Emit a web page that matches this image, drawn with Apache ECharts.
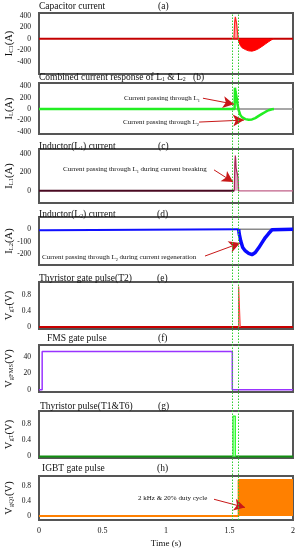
<!DOCTYPE html>
<html><head><meta charset="utf-8">
<script src="https://cdn.jsdelivr.net/npm/echarts@6/dist/echarts.min.js"></script>
<style>html,body{margin:0;padding:0;background:#fff}#c{width:301px;height:550px}</style>
</head><body><div id="c"></div>
<script>
// ---------- data ----------
const timeTicks = [0, 0.5, 1, 1.5, 2];
const markerTimes = [1.525, 1.572];

const capBase = [[0,0],[2,0]];
const capSpike = [[1.535,0],[1.541,300],[1.546,385],[1.551,380],[1.556,270],[1.561,160],[1.566,60],[1.568,0]];
const capNeg = [[1.568,0],[1.572,-40],[1.577,-70],[1.585,-115],[1.598,-154],[1.625,-188],[1.651,-210],[1.677,-215],[1.703,-200],[1.73,-171],[1.756,-132],[1.782,-92],[1.808,-51],[1.835,-12],[1.845,0]];

const combGrey = [[1.54,0],[2,0]];
const combinedL = [[0,0],[1.54,0],[1.543,374],[1.548,298],[1.557,184],[1.564,69],[1.572,-17],[1.585,-103],[1.598,-143],[1.625,-178],[1.651,-190],[1.677,-184],[1.703,-160],[1.73,-121],[1.756,-86],[1.782,-52],[1.808,-22],[1.835,-5],[1.85,0]];

const l1Base = [[0,0],[1.538,0]];
const l1After = [[1.572,0],[2,0]];
const l1Spike = [[1.538,0],[1.542,300],[1.546,385],[1.549,340],[1.552,250],[1.556,220],[1.562,200],[1.567,150],[1.572,0]];

const l2Base = [[0,-8],[0.045,-8],[0.046,0],[1.572,0]];
const l2Grey = [[1.572,0],[2,0]];
const l2Dip = [[1.572,0],[1.577,-40],[1.588,-93],[1.604,-147],[1.625,-175],[1.651,-195],[1.677,-205],[1.703,-188],[1.73,-150],[1.756,-108],[1.782,-67],[1.808,-35],[1.835,-5],[1.845,0],[2,0]];

const t2Base = [[0,0],[2,0]];
const t2Pulse = [[1.572,0],[1.572,1],[1.585,1],[1.585,0]];

const fmsPulse = [[0,0],[0.025,0],[0.025,46],[1.522,46],[1.522,0],[2,0]];

const t16Base = [[0,0],[2,0]];
const t16Pulse = [[1.528,0],[1.528,1],[1.546,1],[1.546,0]];

const igbtPulse = [[0,0],[1.572,0],[1.572,0.97],[2,0.97]];

const arrowL1 = [[1.291,190],[1.535,85]];
const arrowL2 = [[1.26,-230],[1.614,-195]];
const arrowBreak = [[1.378,228],[1.528,96]];
const arrowRegen = [[1.307,-216],[1.583,-112]];
const arrowDuty = [[1.378,0.45],[1.622,0.23]];

const yTicksA = [-400,-200,0,200,400];
const yTicksB = [-400,-200,0,200,400];
const yTicksC = [0,200,400];
const yTicksD = [-200,-100,0];
const yTicksE = [0,0.4,0.8];
const yTicksF = [0,20,40];
const yTicksG = [0,0.4,0.8];
const yTicksH = [0,0.4,0.8];

// ---------- layout ----------
const F = 'Liberation Serif';
const panels = [
  {top:13, height:61, min:-615, max:452, ticks:yTicksA, name:'{i|I}{s|C1}{i|(A)}'},
  {top:83, height:51, min:-440, max:458, ticks:yTicksB, name:'{i|I}{s|L}{i|(A)}'},
  {top:149,height:54, min:-132, max:455, ticks:yTicksC, name:'{i|I}{s|L1}{i|(A)}'},
  {top:217,height:48, min:-288, max:98, ticks:yTicksD, name:'{i|I}{s|L2}{i|(A)}'},
  {top:282,height:47, min:-0.05, max:1.115, ticks:yTicksE, name:'{i|V}{s|gT}{i|(V)}'},
  {top:345,height:47, min:-2.8, max:54, ticks:yTicksF, name:'{i|V}{s|gFMS}{i|(V)}'},
  {top:411,height:47, min:-0.04, max:1.125, ticks:yTicksG, name:'{i|V}{s|gT}{i|(V)}'},
  {top:476,height:44, min:-0.107, max:1.075, ticks:yTicksH, name:'{i|V}{s|gQ1}{i|(V)}'}
];
const nameRich = {
  i:{fontFamily:F,fontSize:10.5,color:'#111',lineHeight:12},
  s:{fontFamily:F,fontSize:6.5,color:'#111',lineHeight:5,verticalAlign:'bottom'}
};

const grid = panels.map(p => ({left:39, right:8, top:p.top, height:p.height, show:true, borderColor:'#555', borderWidth:2,
  backgroundColor:'transparent', containLabel:false, outerBoundsMode:'none'}));
grid.push({left:39, right:8, top:13, bottom:30, containLabel:false, outerBoundsMode:'none'});

const xAxis = panels.map((p,i) => ({
  type:'value', gridIndex:i, min:0, max:2, interval:0.5,
  axisLine:{show:false}, axisTick:{show:false}, splitLine:{show:false},
  axisLabel:{show: i===7, fontFamily:F, fontSize:8, color:'#111', margin:7},
  name: i===7 ? 'Time (s)' : '', nameLocation:'middle', nameGap:19, nameMoveOverlap:false,
  nameTextStyle:{fontFamily:F, fontSize:9, color:'#111'}
}));
xAxis.push({type:'value', gridIndex:8, min:0, max:2, show:false});

const yAxis = panels.map((p,i) => ({
  type:'value', gridIndex:i, min:p.min, max:p.max,
  axisLine:{show:false}, axisTick:{show:false}, splitLine:{show:false},
  axisLabel:{fontFamily:F, fontSize:7.5, color:'#111', margin:8, customValues:p.ticks},
  name:p.name, nameLocation:'middle', nameGap:24, nameRotate:90, nameMoveOverlap:false,
  nameTextStyle:{rich:nameRich}
}));
yAxis.push({type:'value', gridIndex:8, min:0, max:1, show:false});

function ln(i, data, color, width, extra) {
  return Object.assign({type:'line', xAxisIndex:i, yAxisIndex:i, data:data, showSymbol:false, symbol:'none',
    lineStyle:{color:color, width:width}, itemStyle:{color:color}, silent:true, z:2}, extra||{});
}
function arrow(pts) {
  return {silent:true, symbol:['none','arrow'], symbolSize:[9,11], label:{show:false},
    lineStyle:{color:'#c81818', width:1, type:'solid'},
    data:[[{coord:pts[0]},{coord:pts[1]}]]};
}

const series = [
  ln(0, capBase, '#c40000', 2),
  ln(0, capSpike, '#ff2020', 1.2, {areaStyle:{color:'#ff4040', opacity:0.5}, z:3}),
  ln(0, capNeg, '#ff0000', 1, {areaStyle:{color:'#ff0000', opacity:1}, z:3}),

  ln(1, combGrey, '#8a8a8a', 1.5),
  ln(1, combinedL, '#22ee22', 2.5, {z:3, markLine: arrow(arrowL1)}),
  ln(1, [], '#22ee22', 1, {markLine: arrow(arrowL2)}),

  ln(2, l1Base, '#4a0a22', 2),
  ln(2, l1After, '#c06088', 1.2),
  ln(2, l1Spike, '#a8285a', 1.2, {areaStyle:{color:'#d070a0', opacity:0.6}, z:3, markLine: arrow(arrowBreak)}),

  ln(3, l2Grey, '#8a8a8a', 1.5),
  ln(3, l2Base, '#1010ff', 2),
  ln(3, l2Dip, '#0a0aff', 3.5, {z:3, markLine: arrow(arrowRegen)}),

  ln(4, t2Base, '#c80000', 2),
  ln(4, t2Pulse, '#ff4040', 1, {areaStyle:{color:'#ff9090', opacity:0.8}, z:3}),

  ln(5, fmsPulse, '#9933ff', 1.5),

  ln(6, t16Base, '#109010', 2),
  ln(6, t16Pulse, '#22ff22', 1.2, {areaStyle:{color:'#c8ffc8', opacity:0.8}, z:3}),

  ln(7, igbtPulse, '#ff8000', 2, {areaStyle:{color:'#ff8000', opacity:1}, markLine: arrow(arrowDuty)}),

  {type:'line', xAxisIndex:8, yAxisIndex:8, data:[], showSymbol:false, silent:true, z:10,
   markLine:{silent:true, symbol:'none', label:{show:false},
     lineStyle:{color:'#33cc33', width:1, type:[1.5,1.5]},
     data: markerTimes.map(t => ({xAxis:t}))}}
];

function txt(x, y, text, size) {
  const s = size || 9.5;
  return {type:'text', x:x, y:y, silent:true, z:20,
    style:{text:text, fontFamily:F, fontSize:s, fill:'#111', textVerticalAlign:'middle', textAlign:'left',
      rich:{m:{fontFamily:F, fontSize:s, fill:'#111', lineHeight:s+2}, s:{fontFamily:F, fontSize:s*0.62, fill:'#111', verticalAlign:'bottom', lineHeight:s*0.55}}}};
}
const graphic = [
  txt(39,6,'{m|Capacitor current}'), txt(158,6,'{m|(a)}'),
  txt(39,77,'{m|Combined current response of L}{s|1}{m| & L}{s|2}'), txt(193,77,'{m|(b)}'),
  txt(39,146,'{m|Inductor(L}{s|1}{m|) current}'), txt(158,146,'{m|(c)}'),
  txt(39,214,'{m|Inductor(L}{s|2}{m|) current}'), txt(157,214,'{m|(d)}'),
  txt(39,278,'{m|Thyristor gate pulse(T2)}'), txt(157,278,'{m|(e)}'),
  txt(47,338.5,'{m|FMS gate pulse}'), txt(158,338.5,'{m|(f)}'),
  txt(40,406,'{m|Thyristor pulse(T1&T6)}'), txt(158,406,'{m|(g)}'),
  txt(42,468.5,'{m|IGBT gate pulse}'), txt(157,468.5,'{m|(h)}'),
  txt(124,98,'{m|Current passing through L}{s|1}', 7),
  txt(123,122.5,'{m|Current passing through L}{s|2}', 7),
  txt(63,169,'{m|Current passing through L}{s|1}{m| during current breaking}', 7),
  txt(42,257,'{m|Current passing through L}{s|2}{m| during current regeneration}', 7),
  txt(138,498.5,'{m|2 kHz & 20% duty cycle}', 7)
];

const chart = echarts.init(document.getElementById('c'), null, {renderer:'canvas'});
chart.setOption({animation:false, backgroundColor:'#fff', grid, xAxis, yAxis, series, graphic});
</script>
</body></html>
